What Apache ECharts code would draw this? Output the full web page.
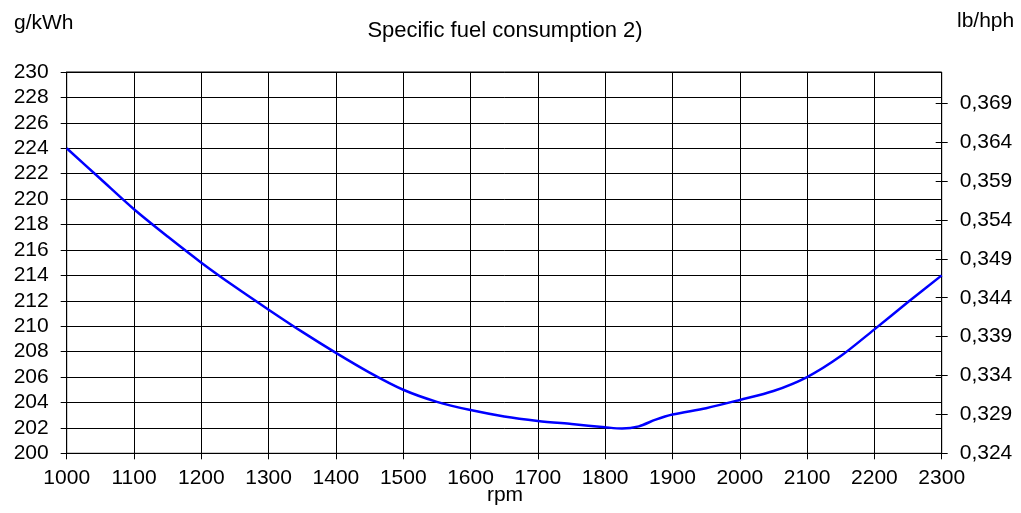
<!DOCTYPE html>
<html>
<head>
<meta charset="utf-8">
<script src="https://cdn.jsdelivr.net/npm/echarts@6/dist/echarts.min.js"></script>
<style>
html,body{margin:0;padding:0;background:#fff;}
#chart{width:1021px;height:513px;}
</style>
</head>
<body>
<div id="chart"></div>
<script>
var rpm = [1000,1050,1100,1150,1200,1250,1300,1350,1400,1450,1500,1550,1600,1650,1700,1750,1800,1825,1850,1875,1900,1950,2000,2050,2100,2150,2200,2250,2300];
var sfc = [224.0,221.6,219.2,217.05,215.0,213.1,211.3,209.55,207.9,206.35,205.0,204.05,203.4,202.9,202.55,202.3,202.05,201.95,202.12,202.65,203.05,203.55,204.2,204.9,206.0,207.65,209.75,211.9,214.0];
var rightTickLabels = ['0,324','0,329','0,334','0,339','0,344','0,349','0,354','0,359','0,364','0,369'];
var titleText = 'Specific fuel consumption 2)';
var leftUnit = 'g/kWh';
var rightUnit = 'lb/hph';
var xName = 'rpm';

var FONT = '"Liberation Sans", Arial, sans-serif';
var points = rpm.map(function(r, i){ return [r, sfc[i]]; });

var chart = echarts.init(document.getElementById('chart'), null, {renderer:'canvas'});
var gridPos = {left:66.7, right:79.3, bottom:59.7};
var lbl = {color:'#000', fontSize:21, fontFamily:FONT};
chart.setOption({
  animation:false,
  backgroundColor:'#fff',
  graphic:[
    {type:'text', x:505, y:31, style:{text:titleText, font:'22px '+FONT, fill:'#000', textAlign:'center', textVerticalAlign:'middle'}},
    {type:'text', x:14, y:23, style:{text:leftUnit, font:'21px '+FONT, fill:'#000', textAlign:'left', textVerticalAlign:'middle'}},
    {type:'text', x:957, y:21, style:{text:rightUnit, font:'21px '+FONT, fill:'#000', textAlign:'left', textVerticalAlign:'middle'}},
    {type:'text', x:505, y:495, style:{text:xName, font:'21px '+FONT, fill:'#000', textAlign:'center', textVerticalAlign:'middle'}}
  ],
  grid:[
    {left:gridPos.left, right:gridPos.right, top:72, bottom:gridPos.bottom, show:true, borderColor:'#000', borderWidth:1, backgroundColor:'transparent'},
    {left:gridPos.left, right:gridPos.right, top:103.3, bottom:gridPos.bottom}
  ],
  xAxis:[
    {type:'value', gridIndex:0, min:1000, max:2300, interval:100,
     axisLine:{show:true, lineStyle:{color:'#000', width:1}},
     axisTick:{show:true, inside:false, length:6, lineStyle:{color:'#000'}},
     axisLabel:Object.assign({margin:14, formatter:function(v){ return String(v); }}, lbl),
     splitLine:{show:true, lineStyle:{color:'#000', width:1}}},
    {type:'value', gridIndex:1, min:1000, max:2300, interval:100, show:false}
  ],
  yAxis:[
    {type:'value', gridIndex:0, position:'left', min:200, max:230, interval:2,
     axisLine:{show:true, lineStyle:{color:'#000', width:1}},
     axisTick:{show:true, inside:false, length:6, lineStyle:{color:'#000'}},
     axisLabel:Object.assign({margin:18, formatter:function(v){ return String(v); }}, lbl),
     splitLine:{show:true, lineStyle:{color:'#000', width:1}}},
    {type:'value', gridIndex:1, position:'right', min:0, max:0.045, interval:0.005,
     axisLine:{show:false},
     axisTick:{show:true, inside:false, length:6, lineStyle:{color:'#000'}},
     axisLabel:Object.assign({margin:18, formatter:function(v){ return rightTickLabels[Math.round(v/0.005)]; }}, lbl),
     splitLine:{show:false}},
    {type:'value', gridIndex:1, position:'right', min:0, max:0.045, interval:0.005,
     axisLine:{show:false},
     axisTick:{show:true, inside:true, length:6, lineStyle:{color:'#000'}},
     axisLabel:{show:false},
     splitLine:{show:false}}
  ],
  series:[{
    type:'line', xAxisIndex:0, yAxisIndex:0, data:points,
    showSymbol:false, smooth:0.3,
    lineStyle:{color:'#0000ff', width:2.5},
    silent:true
  }]
});
</script>
</body>
</html>
